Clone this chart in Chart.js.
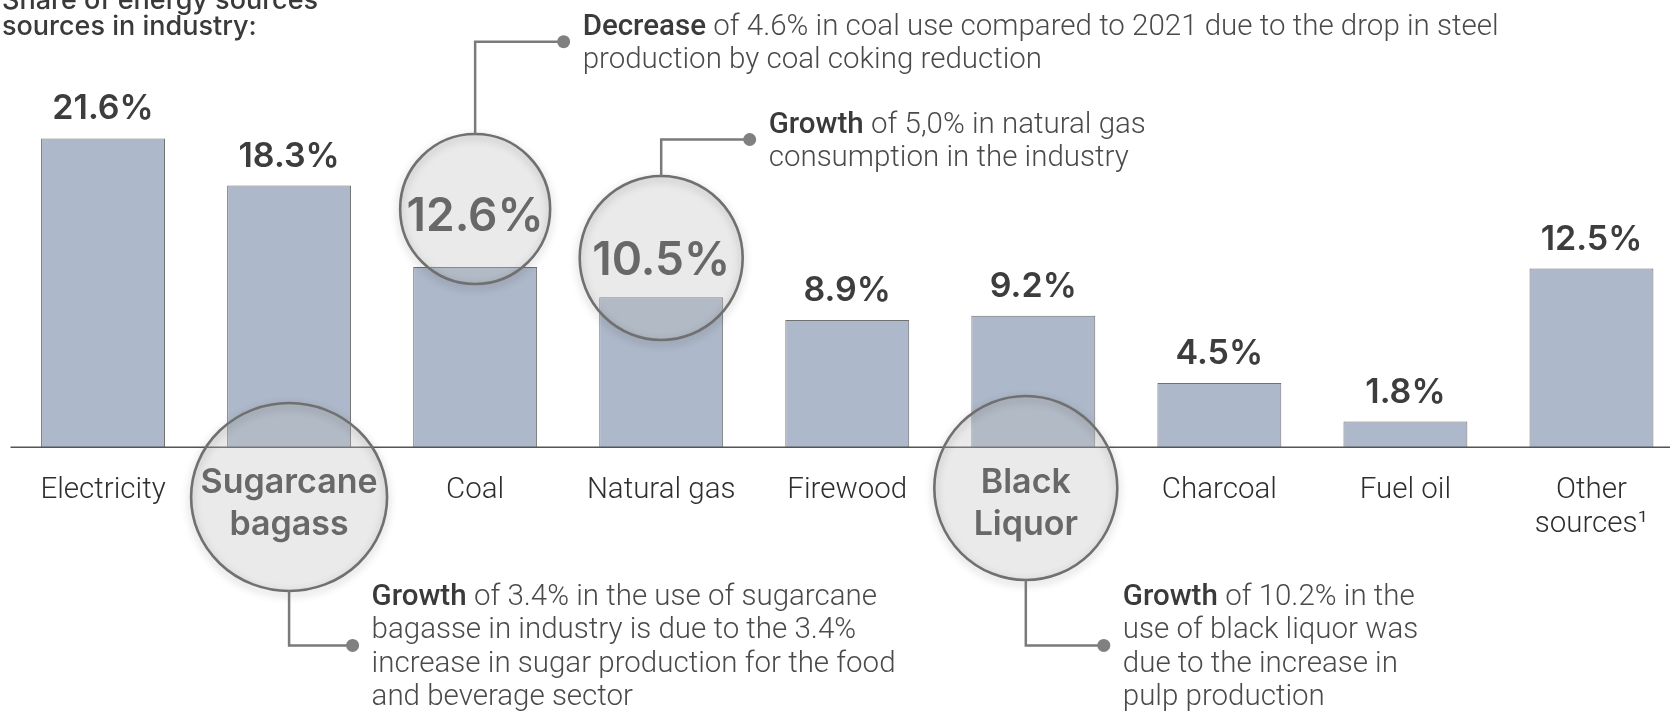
<!DOCTYPE html>
<html>
<head>
<meta charset="utf-8">
<script src="https://cdn.jsdelivr.net/npm/chart.js@4.4.1/dist/chart.umd.min.js"></script>
<style>
  html, body { margin: 0; padding: 0; background: #ffffff; overflow: hidden; }
  #wrap { position: relative; width: 1686px; height: 711px; }
</style>
</head>
<body>
<div id="wrap"><canvas id="chart" width="1686" height="711"></canvas></div>
<script>
// Share of each energy source in industrial consumption (%)
const categories = ['Electricity', 'Sugarcane bagass', 'Coal', 'Natural gas', 'Firewood',
                    'Black Liquor', 'Charcoal', 'Fuel oil', 'Other sources¹'];
const shares = [21.6, 18.3, 12.6, 10.5, 8.9, 9.2, 4.5, 1.8, 12.5];
const valueLabels = ['21.6%', '18.3%', '12.6%', '10.5%', '8.9%', '9.2%', '4.5%', '1.8%', '12.5%'];
const categoryLines = [['Electricity'], ['Sugarcane', 'bagass'], ['Coal'], ['Natural gas'], ['Firewood'],
                       ['Black', 'Liquor'], ['Charcoal'], ['Fuel oil'], ['Other', 'sources¹']];
const titleLines = ['Share of energy sources', 'sources in industry:'];

// Notes attached to the highlighted sources
const coalNote = { lead: 'Decrease', lines: ['of 4.6% in coal use compared to 2021 due to the drop in steel',
                                             'production by coal coking reduction'] };
const gasNote = { lead: 'Growth', lines: ['of 5,0% in natural gas', 'consumption in the industry'] };
const bagasseNote = { lead: 'Growth', lines: ['of 3.4% in the use of sugarcane', 'bagasse in industry is due to the 3.4%',
                                              'increase in sugar production for the food', 'and beverage sector'] };
const liquorNote = { lead: 'Growth', lines: ['of 10.2% in the', 'use of black liquor was',
                                             'due to the increase in', 'pulp production'] };

// Magnifier circles: which bar, what they show, and how the callout runs
const highlights = [
  { index: 2, show: 'value', cy: 209, rx: 75, ry: 75, dx: 0, textY: [231],
    dir: 'up', elbowY: 41.7, dotDx: 88.5, note: coalNote, noteY: [35, 68.3] },
  { index: 3, show: 'value', cy: 258, rx: 81.5, ry: 82, dx: 0, textY: [275],
    dir: 'up', elbowY: 139.5, dotDx: 88.5, note: gasNote, noteY: [133, 166] },
  { index: 1, show: 'category', cy: 497, rx: 98, ry: 94, dx: 0, textY: [493, 535],
    dir: 'down', elbowY: 645.4, dotDx: 63.5, note: bagasseNote, noteY: [605, 638.3, 671.6, 705] },
  { index: 5, show: 'category', cy: 488, rx: 91.5, ry: 92, dx: -7.5, textY: [493, 535],
    dir: 'down', elbowY: 645.4, dotDx: 78, note: liquorNote, noteY: [605, 638.3, 671.6, 705] }
];

const LIGHT = '300 29.5px Roboto, "Liberation Sans", sans-serif';
const LEAD = '500 29.5px Roboto, "Liberation Sans", sans-serif';

function drawLines(ctx, lines, x, ys, align) {
  ctx.textAlign = align;
  lines.forEach((t, k) => ctx.fillText(t, x, ys[k]));
}

const decorations = {
  id: 'decorations',
  afterDatasetsDraw(chart) {
    const ctx = chart.ctx;
    const xs = chart.scales.x;
    const ys = chart.scales.y;
    const meta = chart.getDatasetMeta(0);
    const base = ys.getPixelForValue(0);
    const circled = {};
    highlights.forEach(h => { circled[h.index] = h; });

    ctx.save();
    // axis baseline
    ctx.strokeStyle = '#555555';
    ctx.lineWidth = 1.5;
    ctx.beginPath();
    ctx.moveTo(chart.chartArea.left + 0.5, base);
    ctx.lineTo(chart.width, base);
    ctx.stroke();

    // value labels above the bars
    ctx.textBaseline = 'alphabetic';
    ctx.fillStyle = '#3d3d3d';
    ctx.font = '600 34px Inter, Roboto, sans-serif';
    ctx.textAlign = 'center';
    shares.forEach((v, i) => {
      const h = circled[i];
      if (h && h.show === 'value') return;
      const bar = meta.data[i];
      ctx.fillText(valueLabels[i], bar.x, bar.y - 19);
    });

    // category labels under the axis
    ctx.fillStyle = '#2e2e2e';
    ctx.font = LIGHT;
    categoryLines.forEach((lines, i) => {
      const h = circled[i];
      if (h && h.show === 'category') return;
      const x = xs.getPixelForValue(i);
      drawLines(ctx, lines, x, [base + 51, base + 85], 'center');
    });

    // magnifier circles with callouts and notes
    highlights.forEach(h => {
      const cx = xs.getPixelForValue(h.index) + h.dx;
      ctx.save();
      ctx.beginPath();
      ctx.ellipse(cx, h.cy, h.rx, h.ry, 0, 0, Math.PI * 2);
      ctx.fillStyle = 'rgba(190,190,190,0.32)';
      ctx.fill();
      ctx.shadowColor = 'rgba(0,0,0,0.28)';
      ctx.shadowBlur = 8;
      ctx.shadowOffsetY = 3;
      ctx.strokeStyle = '#707070';
      ctx.lineWidth = 2.6;
      ctx.stroke();
      ctx.restore();

      ctx.fillStyle = '#686868';
      if (h.show === 'value') {
        ctx.font = '600 46px Inter, Roboto, sans-serif';
        drawLines(ctx, [valueLabels[h.index]], cx, h.textY, 'center');
      } else {
        ctx.font = '600 34px Inter, Roboto, sans-serif';
        drawLines(ctx, categoryLines[h.index], cx, h.textY, 'center');
      }

      // elbow connector ending in a dot
      const startY = h.dir === 'up' ? h.cy - h.ry : h.cy + h.ry;
      const dotX = cx + h.dotDx;
      ctx.strokeStyle = '#7a7a7a';
      ctx.lineWidth = 2.5;
      ctx.beginPath();
      ctx.moveTo(cx, startY);
      ctx.lineTo(cx, h.elbowY);
      ctx.lineTo(dotX, h.elbowY);
      ctx.stroke();
      ctx.fillStyle = '#808080';
      ctx.beginPath();
      ctx.arc(dotX, h.elbowY, 6.5, 0, Math.PI * 2);
      ctx.fill();

      // note text: bold lead word then light body
      const tx = dotX + 19;
      ctx.textAlign = 'left';
      h.note.lines.forEach((line, k) => {
        let x = tx;
        if (k === 0) {
          ctx.font = LEAD;
          ctx.fillStyle = '#3a3a3a';
          ctx.fillText(h.note.lead, x, h.noteY[k]);
          x += ctx.measureText(h.note.lead + ' ').width;
        }
        ctx.font = LIGHT;
        ctx.fillStyle = '#4a4a4a';
        ctx.fillText(line, x, h.noteY[k]);
      });
    });

    // heading in the top-left corner
    ctx.fillStyle = '#3a3a3a';
    ctx.font = '500 27px Inter, Roboto, sans-serif';
    drawLines(ctx, titleLines, 2, [9, 35], 'left');
    ctx.restore();
  }
};

new Chart(document.getElementById('chart'), {
  type: 'bar',
  data: {
    labels: categories,
    datasets: [{
      data: shares,
      backgroundColor: '#adb8ca',
      borderColor: '#707070',
      borderWidth: 1,
      borderSkipped: 'bottom',
      barPercentage: 0.666,
      categoryPercentage: 1
    }]
  },
  options: {
    responsive: false,
    devicePixelRatio: 1,
    animation: false,
    layout: { padding: { left: 10, right: 1.5, top: 18.3, bottom: 263.7 } },
    scales: {
      x: { display: false },
      y: { display: false, min: 0, max: 30 }
    },
    plugins: { legend: { display: false }, tooltip: { enabled: false } }
  },
  plugins: [decorations]
});
</script>
</body>
</html>
